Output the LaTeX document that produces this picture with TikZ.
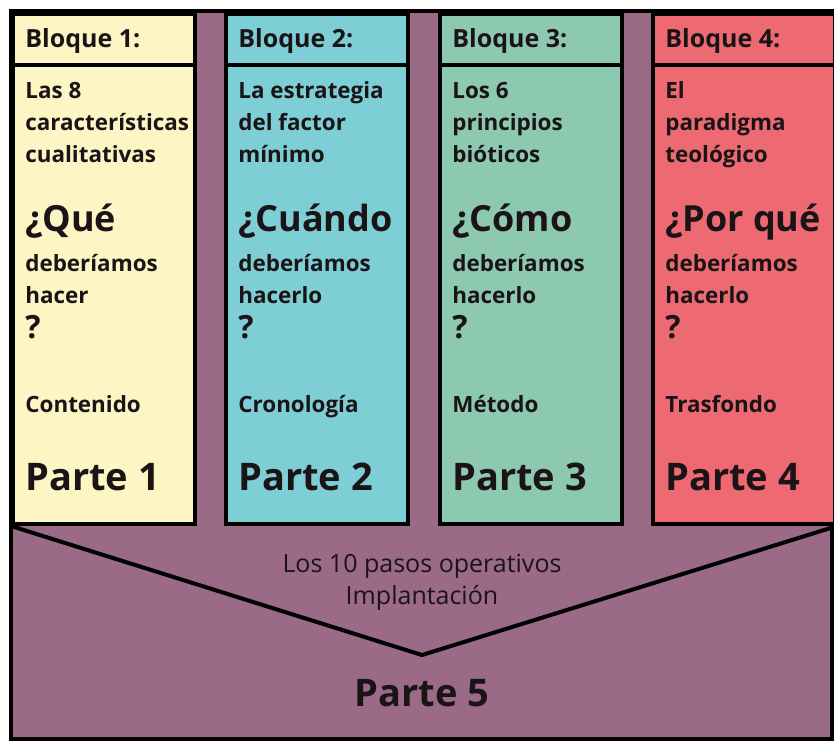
\documentclass[tikz,border=0pt]{standalone}
\usepackage{fontspec}
\setmainfont{Open Sans}
\usetikzlibrary{positioning}
\definecolor{morado}{HTML}{9A6A86}
\definecolor{amarillo}{HTML}{FDF5C4}
\definecolor{celeste}{HTML}{7ECED6}
\definecolor{verde}{HTML}{8DC9B1}
\definecolor{rojo}{HTML}{EE6A73}
\definecolor{tinta}{HTML}{1A1416}
\tikzset{
  caja/.style={draw=black, line width=2pt, anchor=north west, inner sep=0pt, minimum width=91pt},
  cabeza/.style={caja, minimum height=25.5pt},
  cuerpo/.style={caja, minimum height=229.5pt},
  txt/.style={anchor=base west, inner sep=0pt, align=left, text=tinta, font=\bfseries\fontsize{11.2}{16}\selectfont},
  titulo/.style={txt, font=\bfseries\fontsize{12.5}{16}\selectfont},
  pregunta/.style={txt, font=\bfseries\fontsize{18}{20}\selectfont},
  signo/.style={txt, font=\bfseries\fontsize{16}{16}\selectfont},
  parte/.style={txt, font=\bfseries\fontsize{19}{22}\selectfont},
  pie/.style={anchor=base, inner sep=0pt, align=center, text=tinta, font=\fontsize{12.5}{16}\selectfont}
}
\begin{document}
\begin{tikzpicture}[x=0.5pt,y=-0.5pt]
\useasboundingbox (0,0) rectangle (834,741);
\fill[white] (0,0) rectangle (834,741);
\fill[morado] (10,10) rectangle (834,741);
\draw[line width=2pt] (11,11) rectangle (832,739);
% columnas
\node [cabeza, fill=amarillo] (h1) at (11,12) {};
\node [cuerpo, fill=amarillo] (c1) at (11,63) {};
\node [cabeza, fill=celeste] (h2) at (224,12) {};
\node [cuerpo, fill=celeste] (c2) at (224,63) {};
\node [cabeza, fill=verde] (h3) at (438,12) {};
\node [cuerpo, fill=verde] (c3) at (438,63) {};
\node [cabeza, fill=rojo] (h4) at (651,12) {};
\node [cuerpo, fill=rojo] (c4) at (651,63) {};
% la V de abajo
\coordinate (pico) at (422,655);
\draw [line width=2pt, line join=round] (c1.south west) -- (pico) -- (c4.south east);
% bloque 1
\node [titulo] (b1) at (25,47) {Bloque 1:};
\node [txt] (t1) at (25,162) {Las 8\\características\\cualitativas};
\node [pregunta] (q1) at (25,231) {¿Qué};
\node [txt] (d1) at (25,303) {deberíamos\\hacer};
\node [signo] (s1) at (25,338) {?};
\node [txt] (l1) at (25,412) {Contenido};
\node [parte] (p1) at (25,490) {Parte 1};
% bloque 2
\node [titulo] (b2) at (238,47) {Bloque 2:};
\node [txt] (t2) at (238,162) {La estrategia\\del factor\\mínimo};
\node [pregunta] (q2) at (238,231) {¿Cuándo};
\node [txt] (d2) at (238,303) {deberíamos\\hacerlo};
\node [signo] (s2) at (238,338) {?};
\node [txt] (l2) at (238,412) {Cronología};
\node [parte] (p2) at (238,490) {Parte 2};
% bloque 3
\node [titulo] (b3) at (452,47) {Bloque 3:};
\node [txt] (t3) at (452,162) {Los 6\\principios\\bióticos};
\node [pregunta] (q3) at (452,231) {¿Cómo};
\node [txt] (d3) at (452,303) {deberíamos\\hacerlo};
\node [signo] (s3) at (452,338) {?};
\node [txt] (l3) at (452,412) {Método};
\node [parte] (p3) at (452,490) {Parte 3};
% bloque 4
\node [titulo] (b4) at (665,47) {Bloque 4:};
\node [txt] (t4) at (665,162) {El\\paradigma\\teológico};
\node [pregunta] (q4) at (665,231) {¿Por qué};
\node [txt] (d4) at (665,303) {deberíamos\\hacerlo};
\node [signo] (s4) at (665,338) {?};
\node [txt] (l4) at (665,412) {Trasfondo};
\node [parte] (p4) at (665,490) {Parte 4};
% parte 5
\node [pie] (pasos) at (422,604) {Los 10 pasos operativos\\Implantación};
\node [parte, anchor=base] (p5) at (422,706) {Parte 5};
\end{tikzpicture}
\end{document}
